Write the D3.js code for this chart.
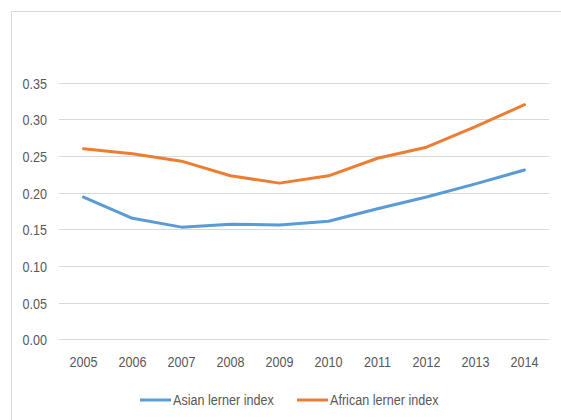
<!DOCTYPE html>
<html>
<head>
<meta charset="utf-8">
<script src="https://cdn.jsdelivr.net/npm/d3@7"></script>
<style>
  html, body { margin: 0; padding: 0; background: #fff; }
  svg { display: block; }
  text { font-family: "Liberation Sans", Arial, sans-serif; fill: #595959; }
</style>
</head>
<body>
<script>
// Lerner index by year, Asian vs African banking sectors
const years = ["2005", "2006", "2007", "2008", "2009", "2010", "2011", "2012", "2013", "2014"];
const asianValues = [0.194, 0.165, 0.153, 0.157, 0.156, 0.161, 0.178, 0.194, 0.212, 0.231];
const africanValues = [0.260, 0.253, 0.243, 0.223, 0.213, 0.223, 0.247, 0.262, 0.290, 0.320];
const yTicks = [0, 0.05, 0.10, 0.15, 0.20, 0.25, 0.30, 0.35];
const seriesNames = ["Asian lerner index", "African lerner index"];
const seriesColors = ["#5B9BD5", "#ED7D31"];

const W = 561, H = 420;
const svg = d3.select("body").append("svg").attr("width", W).attr("height", H);

// chart area frame
svg.append("rect")
  .attr("x", 11.5).attr("y", 11.5)
  .attr("width", 620).attr("height", 520)
  .attr("fill", "#fff").attr("stroke", "#d9d9d9").attr("stroke-width", 1);

const x = d3.scaleBand().domain(years).range([59, 549]);
const y = d3.scaleLinear().domain([0, 0.35]).range([339.3, 82.7]);

const sx = 0.84; // condensed text
const fs = "15px";

// horizontal gridlines
svg.append("g").selectAll("line").data(yTicks).join("line")
  .attr("x1", 59).attr("x2", 549)
  .attr("y1", d => Math.round(y(d)) + 0.5).attr("y2", d => Math.round(y(d)) + 0.5)
  .attr("stroke", "#d9d9d9").attr("stroke-width", 1);

// y axis labels
const yAxis = d3.axisLeft(y).tickValues(yTicks).tickFormat(d3.format(".2f")).tickSize(0).tickPadding(0);
const gy = svg.append("g").attr("transform", "translate(47,0)").call(yAxis);
gy.select(".domain").remove();
gy.selectAll("text")
  .attr("x", 0).attr("dy", "0.36em")
  .style("font-size", fs).style("fill", "#595959")
  .style("font-family", "Liberation Sans, Arial, sans-serif")
  .attr("transform", `scale(${sx},1)`);

// x axis labels
const xAxis = d3.axisBottom(x).tickSize(0).tickPadding(0);
const gx = svg.append("g").attr("transform", "translate(0,361.5)").call(xAxis);
gx.select(".domain").remove();
gx.selectAll("text")
  .attr("y", 0).attr("dy", "0.36em")
  .style("font-size", fs).style("fill", "#595959")
  .style("font-family", "Liberation Sans, Arial, sans-serif")
  .attr("transform", `scale(${sx},1)`);

// series lines
const line = d3.line()
  .x((d, i) => x(years[i]) + x.bandwidth() / 2)
  .y(d => y(d));

[asianValues, africanValues].forEach((vals, k) => {
  svg.append("path")
    .datum(vals)
    .attr("d", line)
    .attr("fill", "none")
    .attr("stroke", seriesColors[k])
    .attr("stroke-width", 3)
    .attr("stroke-linejoin", "round")
    .attr("stroke-linecap", "round");
});

// legend
const legendX = [140, 297];
const legend = svg.append("g");
seriesNames.forEach((name, k) => {
  const g = legend.append("g").attr("transform", `translate(${legendX[k]},400)`);
  g.append("line")
    .attr("x1", 0).attr("x2", 31).attr("y1", 0).attr("y2", 0)
    .attr("stroke", seriesColors[k]).attr("stroke-width", 3);
  g.append("text")
    .attr("transform", `translate(33,0) scale(${sx},1)`)
    .attr("dy", "0.36em")
    .style("font-size", fs)
    .text(name);
});
</script>
</body>
</html>
